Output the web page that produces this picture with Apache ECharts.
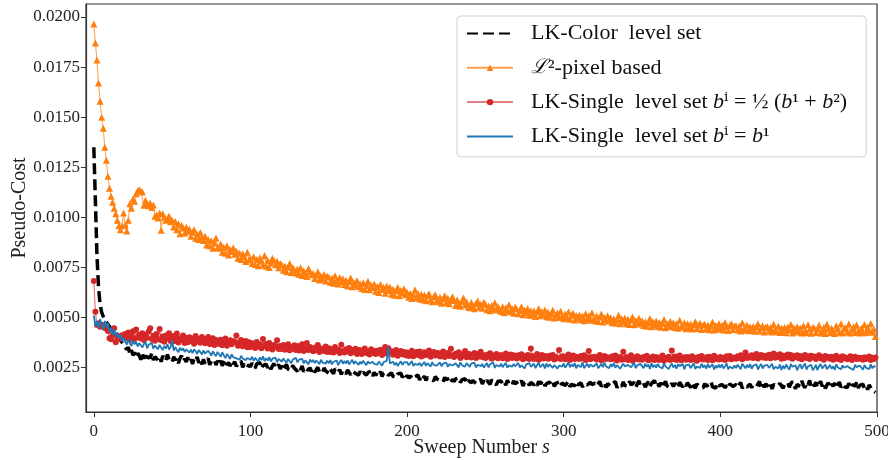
<!DOCTYPE html>
<html>
<head>
<meta charset="utf-8">
<title>Pseudo-Cost vs Sweep Number</title>
<script src="https://cdn.jsdelivr.net/npm/echarts@6/dist/echarts.min.js"></script>
<style>
  html, body { margin: 0; padding: 0; background: #fff; }
  #chart { width: 888px; height: 460px; }
</style>
</head>
<body>
<div id="chart"></div>
<script>
// pseudo-cost values, stored in units of 1e-5, one per sweep (0..499)
const SCALE = 1e-5;

const lkColor = [
  1350,1080,810,650,565,525,505,492,478,466,
  455,441,446,422,428,404,410,385,390,366,
  362,340,352,318,337,311,326,302,321,309,
  289,318,295,312,283,307,296,322,287,304,
  311,286,301,279,308,294,283,315,290,297,
  276,304,288,299,271,296,309,282,293,278,
  301,279,290,268,295,284,303,273,288,266,
  291,270,285,296,264,281,272,289,262,284,
  266,284,259,277,290,263,275,257,281,268,
  278,255,270,262,283,251,268,274,249,265,
  253,272,258,247,269,263,276,245,260,254,
  267,248,262,241,258,270,246,255,264,243,
  259,238,253,266,242,250,235,261,247,256,
  232,251,240,258,229,246,253,236,249,231,
  245,226,240,251,229,237,222,248,234,241,
  221,242,230,219,244,235,226,240,216,236,
  234,219,238,225,214,232,240,221,229,212,
  231,215,227,236,212,225,219,233,208,226,
  210,227,216,230,205,222,214,226,211,203,
  224,206,215,199,218,209,222,201,213,196,
  211,197,208,215,192,204,199,213,188,206,
  194,207,186,201,210,190,198,184,205,193,
  199,185,194,178,201,189,183,197,176,192,
  180,193,186,199,175,188,181,195,172,186,
  189,174,185,194,170,183,177,191,168,184,
  172,186,178,166,190,175,183,164,181,176,
  183,168,179,162,187,171,176,160,184,169,
  165,180,170,185,158,175,167,182,161,176,
  178,163,174,159,181,168,172,186,157,170,
  162,177,166,180,155,171,164,178,158,173,
  175,160,169,182,154,167,173,158,179,163,
  160,174,152,170,178,163,157,176,165,171,
  172,158,168,181,155,164,176,150,169,162,
  157,171,163,180,149,166,174,156,178,161,
  170,155,182,163,158,176,151,168,184,160,
  159,173,152,166,179,155,170,162,186,157,
  168,154,175,149,166,181,158,163,150,172,
  155,171,160,148,177,164,153,169,158,174,
  163,150,172,157,147,168,176,154,161,149,
  170,156,149,166,180,153,161,147,172,158,
  152,165,174,150,160,148,169,178,155,163,
  166,151,160,175,146,162,171,153,144,167,
  149,163,172,155,158,181,147,164,152,169,
  161,150,168,143,166,174,155,148,170,159,
  147,164,156,176,152,169,181,158,145,166,
  172,155,183,161,149,175,164,186,152,168,
  158,177,150,166,182,156,171,145,163,174,
  149,168,157,173,146,162,178,151,166,155,
  164,150,171,158,145,169,155,176,148,161,
  153,167,146,158,140,163,150,136,144,126
];

const l2Pixel = [
  1965,1870,1785,1670,1580,1500,1445,1350,1285,1205,
  1145,1105,1075,1045,1018,985,958,938,958,1022,
  962,932,985,1068,1045,1092,1080,1118,1132,1138,
  1131,1126,1060,1085,1070,1058,1072,1049,1062,1005,
  1012,996,1021,936,1018,1002,985,993,1006,978,
  985,952,979,938,968,918,961,947,922,950,
  931,942,905,926,938,896,915,889,924,901,
  884,906,862,889,858,883,846,872,897,850,
  846,867,825,851,820,858,812,839,829,848,
  815,831,796,822,789,818,802,780,826,787,
  796,770,803,765,789,758,798,781,762,809,
  756,784,750,772,795,786,763,781,748,769,
  763,736,757,728,751,769,725,748,738,722,
  742,716,748,709,733,721,705,745,728,713,
  719,694,711,728,687,708,693,715,682,706,
  702,676,696,671,708,684,667,699,678,693,
  664,686,657,680,697,653,675,662,684,655,
  668,644,673,640,658,681,638,662,649,667,
  631,655,624,664,639,650,621,657,634,652,
  616,641,611,633,649,608,635,622,643,613,
  626,601,620,595,614,638,598,619,592,616,
  588,612,583,607,619,590,579,604,614,586,
  578,601,571,593,609,574,596,568,589,603,
  585,560,588,567,556,581,597,563,577,554,
  549,575,558,543,570,582,551,566,546,576,
  566,539,557,533,560,544,573,537,553,541,
  530,553,523,548,535,563,528,545,521,551,
  542,518,535,553,514,537,524,544,511,533,
  511,534,505,527,543,509,529,515,537,504,
  526,501,519,536,497,514,522,500,531,506,
  493,517,500,528,491,511,521,487,510,497,
  512,488,507,483,519,494,509,486,523,490,
  483,507,480,501,517,477,498,486,509,482,
  498,474,494,472,489,511,469,493,478,497,
  468,491,465,487,502,463,484,472,496,467,
  484,460,479,456,474,495,454,478,463,482,
  455,475,451,471,490,449,469,457,480,453,
  473,450,469,446,486,455,452,474,444,468,
  447,467,442,464,479,445,461,471,440,462,
  466,443,462,439,457,477,437,460,445,468,
  441,461,437,475,453,435,459,468,440,457,
  459,438,456,433,473,443,437,462,434,454,
  435,455,431,452,469,433,449,458,428,451,
  453,432,450,427,466,438,430,456,425,448,
  430,450,424,452,437,465,423,447,431,454,
  427,447,422,458,432,424,464,443,421,450,
  447,425,443,461,422,432,450,420,466,442,
  424,446,431,420,459,443,426,469,423,445,
  449,427,467,423,441,453,425,462,430,422,
  446,428,465,424,451,433,470,426,443,405
];

const lkSingleMean = [
  682,528,462,471,453,463,455,447,458,432,
  396,391,412,446,376,397,406,394,411,404,
  418,396,425,389,410,431,392,440,401,414,
  395,421,388,412,399,430,446,393,409,384,
  417,392,443,386,405,379,410,396,421,383,
  407,381,399,420,375,396,388,410,372,398,
  376,401,383,395,369,408,381,393,374,402,
  392,371,386,402,367,383,396,362,388,375,
  368,389,361,380,395,359,377,386,366,381,
  378,410,359,373,387,356,370,382,351,376,
  352,371,363,348,377,355,366,346,392,358,
  367,345,372,351,340,363,355,386,343,358,
  343,362,339,355,366,336,352,344,361,338,
  357,335,349,366,333,344,372,337,352,340,
  331,349,337,362,328,345,340,333,355,327,
  346,328,341,325,352,333,339,322,364,331,
  325,341,330,347,321,336,328,344,318,338,
  336,317,330,345,322,329,315,341,324,333,
  318,334,323,339,312,328,352,320,346,326,
  331,314,327,338,309,324,333,316,328,311,
  325,308,322,334,306,319,327,312,330,305,
  309,326,313,320,335,304,318,327,310,322,
  321,305,317,330,302,314,323,308,344,311,
  303,319,312,326,298,315,308,333,301,317,
  316,300,312,323,297,318,305,329,302,311,
  298,314,305,321,294,310,301,317,296,308,
  312,296,309,320,293,304,315,298,311,302,
  295,311,300,316,291,306,298,313,293,345,
  308,293,304,318,289,301,312,295,307,299,
  294,309,297,313,290,303,296,338,292,306,
  305,291,302,315,288,299,310,293,304,296,
  292,307,296,311,287,300,332,291,303,297,
  304,290,299,313,286,297,308,292,301,295,
  291,306,294,310,285,299,303,289,329,293,
  302,288,297,311,284,300,293,306,290,299,
  289,303,295,309,286,298,291,305,287,301,
  300,287,296,310,284,297,292,304,288,335,
  292,305,288,299,310,286,296,301,289,303,
  299,287,306,291,297,284,302,293,308,290,
  294,301,288,304,296,286,309,292,299,290,
  303,292,299,287,306,295,308,291,300,296,
  294,306,298,311,291,303,325,297,305,300,
  311,298,307,318,295,304,313,300,309,297,
  301,314,296,308,320,299,311,303,316,294,
  309,297,306,315,300,312,294,308,302,311,
  296,308,291,304,313,298,306,292,309,301,
  305,293,301,311,296,302,289,307,299,303,
  294,304,289,301,309,292,300,287,306,297,
  300,291,298,306,288,296,304,292,299,294,
  298,289,301,293,296,305,287,299,292,300
];

const lkSingleB1 = [
  510,458,481,447,492,462,440,483,451,474,
  428,449,414,441,403,426,396,412,381,400,
  381,364,392,370,358,385,366,379,355,372,
  371,350,368,378,346,364,357,373,344,360,
  359,341,363,349,337,358,345,366,340,351,
  386,334,352,338,327,349,335,346,328,341,
  346,325,339,322,341,331,318,338,327,315,
  336,319,311,334,323,309,331,318,306,328,
  320,304,326,311,297,318,306,293,316,302,
  311,296,305,289,309,295,301,287,298,306,
  289,304,284,298,292,279,301,287,306,282,
  297,285,302,280,294,288,299,276,293,286,
  280,295,284,274,293,286,271,290,281,298,
  276,289,280,293,271,286,279,266,290,277,
  288,272,285,279,267,289,275,283,270,284,
  271,287,266,279,273,285,262,277,288,269,
  283,270,286,265,277,289,268,281,272,263,
  280,268,284,272,262,281,270,266,279,268,
  276,264,280,270,259,277,268,283,353,271,
  265,279,262,275,258,270,281,263,276,267,
  277,261,270,282,258,268,276,263,273,257,
  266,278,258,272,264,255,277,262,270,259,
  264,276,256,270,261,275,253,267,273,260,
  255,271,264,251,276,262,268,254,272,263,
  253,269,260,274,250,264,271,257,268,249,
  262,272,251,266,258,275,248,263,270,255,
  269,252,263,274,249,261,270,254,267,256,
  260,273,250,261,270,246,266,257,272,254,
  258,269,247,263,273,252,260,268,245,270,
  253,266,274,248,262,271,245,259,268,255,
  270,249,262,276,251,266,255,272,246,263,
  268,252,277,247,259,270,250,265,273,254,
  259,271,246,257,269,252,275,255,263,247,
  267,254,273,249,262,270,244,258,269,256,
  248,263,272,251,259,274,247,261,255,268,
  257,246,270,254,265,243,273,252,263,250,
  268,254,261,245,271,256,264,242,258,270,
  250,263,244,268,257,249,267,241,262,255,
  265,247,259,272,243,255,264,248,269,251,
  261,244,268,250,258,266,240,260,248,265,
  249,266,245,257,270,242,254,263,246,261,
  247,264,255,241,269,258,246,263,250,267,
  244,259,250,266,240,256,268,245,260,251,
  263,248,255,269,242,253,262,246,265,238,
  259,244,265,250,239,268,254,247,261,236,
  255,266,243,258,270,240,256,249,264,237,
  248,263,237,257,268,246,254,265,241,252,
  262,244,256,238,267,250,258,241,261,249,
  240,257,266,247,255,238,264,252,243,260,
  251,239,263,248,257,242,266,246,258,252
];

const yTicks = [0.0025, 0.0050, 0.0075, 0.0100, 0.0125, 0.0150, 0.0175, 0.0200];
const xTicks = [0, 100, 200, 300, 400, 500];

const seriesNames = [
  'LK-Color  level set',
  'ℒ²-pixel based',
  'LK-Single  level set b^i = ½(b¹ + b²)',
  'LK-Single  level set b^i = b¹'
];
const legendRich = {
  [seriesNames[0]]: 'LK-Color  level set',
  [seriesNames[1]]: '{sc|ℒ}²-pixel based',
  [seriesNames[2]]: 'LK-Single  level set {it|b}ⁱ = ½ ({it|b}¹ + {it|b}²)',
  [seriesNames[3]]: 'LK-Single  level set {it|b}ⁱ = {it|b}¹'
};

const serif = '"Liberation Serif", "DejaVu Serif", serif';
const hiddenMarker = { color: 'rgba(0,0,0,0)', borderWidth: 0, opacity: 0 };

function toPairs(values) {
  return values.map((v, i) => [i, v * SCALE]);
}

const chart = echarts.init(document.getElementById('chart'), null, { renderer: 'canvas' });

chart.setOption({
  animation: false,
  backgroundColor: '#fff',
  grid: {
    left: 86, right: 11, top: 4, bottom: 48,
    outerBoundsMode: 'none',
    show: true, borderColor: '#333', borderWidth: 1.2, backgroundColor: 'transparent'
  },
  xAxis: {
    type: 'value',
    min: -5,
    max: 500,
    name: 'Sweep Number {it|s}',
    nameLocation: 'middle',
    nameGap: 26,
    nameMoveOverlap: false,
    nameTextStyle: {
      fontFamily: serif, fontSize: 20, color: '#222',
      rich: { it: { fontFamily: serif, fontSize: 20, fontStyle: 'italic', color: '#222' } }
    },
    splitLine: { show: false },
    axisLine: { show: true, onZero: false, lineStyle: { color: '#333', width: 1.2 } },
    axisTick: { show: true, length: 5, customValues: xTicks, lineStyle: { color: '#333' } },
    axisLabel: {
      customValues: xTicks, margin: 11,
      fontFamily: serif, fontSize: 17, color: '#222'
    }
  },
  yAxis: {
    type: 'value',
    min: 0.00028,
    max: 0.02065,
    name: 'Pseudo-Cost',
    nameLocation: 'middle',
    nameGap: 56,
    nameMoveOverlap: false,
    nameTextStyle: { fontFamily: serif, fontSize: 20, color: '#222' },
    splitLine: { show: false },
    axisLine: { show: true, onZero: false, lineStyle: { color: '#333', width: 1.2 } },
    axisTick: { show: true, length: 5, customValues: yTicks, lineStyle: { color: '#333' } },
    axisLabel: {
      customValues: yTicks, margin: 6,
      fontFamily: serif, fontSize: 17, color: '#222',
      formatter: v => v.toFixed(4)
    }
  },
  legend: {
    orient: 'vertical',
    left: 457,
    top: 16,
    padding: [5, 19, 8, 9],
    itemWidth: 46,
    itemHeight: 8,
    itemGap: 9.3,
    backgroundColor: 'rgba(255,255,255,0.85)',
    borderColor: '#d0d0d0',
    borderWidth: 1,
    borderRadius: 4,
    data: [
      { name: seriesNames[0], itemStyle: hiddenMarker },
      { name: seriesNames[1] },
      { name: seriesNames[2] },
      { name: seriesNames[3], itemStyle: hiddenMarker }
    ],
    formatter: name => legendRich[name],
    textStyle: {
      fontFamily: serif, fontSize: 22, color: '#111', lineHeight: 25,
      padding: [0, 0, 0, 13],
      rich: {
        it: { fontFamily: serif, fontSize: 22, fontStyle: 'italic', color: '#111' },
        sc: { fontFamily: '"DejaVu Serif", serif', fontSize: 20, fontStyle: 'italic', color: '#111' }
      }
    }
  },
  series: [
    {
      name: seriesNames[0],
      type: 'line',
      data: toPairs(lkColor),
      symbol: 'none',
      color: '#000',
      lineStyle: { color: '#000', width: 3.5, type: [11, 5] },
      z: 2
    },
    {
      name: seriesNames[1],
      type: 'line',
      data: toPairs(l2Pixel),
      symbol: 'triangle',
      symbolSize: 7,
      showAllSymbol: true,
      color: '#ff7f0e',
      itemStyle: { color: '#ff7f0e' },
      lineStyle: { color: '#ff7f0e', width: 1, opacity: 0.75 },
      z: 3
    },
    {
      name: seriesNames[2],
      type: 'line',
      data: toPairs(lkSingleMean),
      symbol: 'circle',
      symbolSize: 6,
      showAllSymbol: true,
      color: '#d62728',
      itemStyle: { color: '#d62728' },
      lineStyle: { color: '#d62728', width: 1.2, opacity: 0.6 },
      z: 4
    },
    {
      name: seriesNames[3],
      type: 'line',
      data: toPairs(lkSingleB1),
      symbol: 'none',
      color: '#1f77b4',
      lineStyle: { color: '#1f77b4', width: 1.8 },
      z: 5
    }
  ]
});
</script>
</body>
</html>
